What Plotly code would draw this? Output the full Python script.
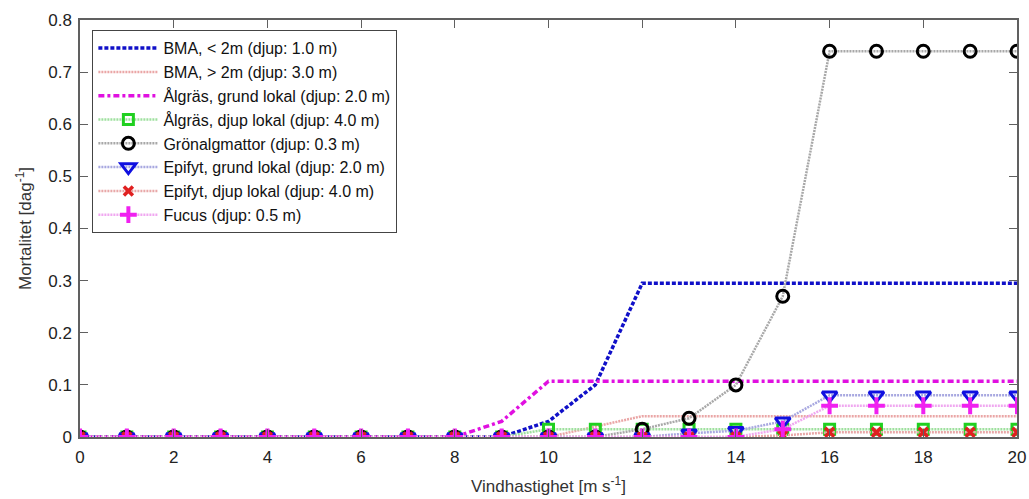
import plotly.graph_objects as go

wind = list(range(0, 21))

bma_shallow = [0]*10 + [0.03, 0.10, 0.295, 0.295, 0.295, 0.295, 0.295, 0.295, 0.295, 0.295, 0.295]
bma_deep = [0]*11 + [0.02, 0.04, 0.04, 0.04, 0.04, 0.04, 0.04, 0.04, 0.04, 0.04]
algras_grund = [0]*9 + [0.03, 0.107, 0.107, 0.107, 0.107, 0.107, 0.107, 0.107, 0.107, 0.107, 0.107, 0.107]
algras_djup = [0]*10 + [0.015]*11
gronalg = [0]*12 + [0.015, 0.036, 0.10, 0.27, 0.74, 0.74, 0.74, 0.74, 0.74]
epifyt_grund = [0]*13 + [0.007, 0.012, 0.03, 0.08, 0.08, 0.08, 0.08, 0.08]
epifyt_djup = [0]*15 + [0.003, 0.009, 0.009, 0.009, 0.009, 0.009]
fucus = [0]*15 + [0.015, 0.06, 0.06, 0.06, 0.06, 0.06]

names = [
    "BMA, < 2m (djup: 1.0 m)",
    "BMA, > 2m (djup: 3.0 m)",
    "Ålgräs, grund lokal (djup: 2.0 m)",
    "Ålgräs, djup lokal (djup: 4.0 m)",
    "Grönalgmattor (djup: 0.3 m)",
    "Epifyt, grund lokal (djup: 2.0 m)",
    "Epifyt, djup lokal (djup: 4.0 m)",
    "Fucus (djup: 0.5 m)",
]

fig = go.Figure()

fig.add_trace(go.Scatter(x=wind, y=bma_shallow, name=names[0], mode="lines",
                         line=dict(color="#1010c8", width=3.5, dash="4px,2px")))
fig.add_trace(go.Scatter(x=wind, y=bma_deep, name=names[1], mode="lines",
                         line=dict(color="#eaa6a6", width=2.5, dash="2px,1px")))
fig.add_trace(go.Scatter(x=wind, y=algras_grund, name=names[2], mode="lines",
                         line=dict(color="#e010e0", width=3.5, dash="6px,3px,3px,3px")))
fig.add_trace(go.Scatter(x=wind, y=algras_djup, name=names[3], mode="lines+markers",
                         line=dict(color="#9ee09e", width=2.5, dash="2px,1px"),
                         marker=dict(symbol="square-open", size=10, color="#20d020", line=dict(width=3, color="#20d020"))))
fig.add_trace(go.Scatter(x=wind, y=gronalg, name=names[4], mode="lines+markers",
                         line=dict(color="#a8a8a8", width=2.5, dash="2px,1px"),
                         marker=dict(symbol="circle-open", size=12, color="black", line=dict(width=3, color="black"))))
fig.add_trace(go.Scatter(x=wind, y=epifyt_grund, name=names[5], mode="lines+markers",
                         line=dict(color="#a8a8e0", width=2.5, dash="2px,1px"),
                         marker=dict(symbol="triangle-down-open", size=13, color="#1010e0", line=dict(width=3, color="#1010e0"))))
fig.add_trace(go.Scatter(x=wind, y=epifyt_djup, name=names[6], mode="lines+markers",
                         line=dict(color="#e8a8a8", width=2.5, dash="2px,1px"),
                         marker=dict(symbol="x-thin", size=9, color="#e02020", line=dict(width=3.5, color="#e02020"))))
fig.add_trace(go.Scatter(x=wind, y=fucus, name=names[7], mode="lines+markers",
                         line=dict(color="#f0a8f0", width=2.5, dash="2px,1px"),
                         marker=dict(symbol="cross-thin", size=12, color="#f020f0", line=dict(width=4, color="#f020f0"))))

axis_common = dict(showline=True, linecolor="#606060", linewidth=1.5, mirror="ticks",
                   ticks="inside", ticklen=8, tickcolor="#606060", showgrid=False, zeroline=False,
                   automargin=False,
                   tickfont=dict(family="Liberation Sans, Arial", size=17, color="#222"))

fig.update_xaxes(range=[0, 20], tickmode="array", tickvals=list(range(0, 21, 2)),
                 ticklabelstandoff=4,
                 title=dict(text="Vindhastighet [m s<sup>-1</sup>]", font=dict(family="Liberation Sans, Arial", size=17, color="#333"), standoff=14),
                 **axis_common)
fig.update_yaxes(range=[0, 0.8], tickmode="array", tickvals=[0, 0.1, 0.2, 0.3, 0.4, 0.5, 0.6, 0.7, 0.8],
                 ticktext=["0", "0.1", "0.2", "0.3", "0.4", "0.5", "0.6", "0.7", "0.8"],
                 ticklabelstandoff=3,
                 title=dict(text="Mortalitet [dag<sup>-1</sup>]", font=dict(family="Liberation Sans, Arial", size=17, color="#333"), standoff=12),
                 **axis_common)

fig.update_layout(
    width=1029, height=499,
    margin=dict(l=80, r=12, t=20, b=62),
    paper_bgcolor="white", plot_bgcolor="white",
    showlegend=True,
    legend=dict(x=0.013, y=0.976, xanchor="left", yanchor="top",
                bgcolor="white", bordercolor="#444", borderwidth=1.2,
                font=dict(family="Liberation Sans, Arial", size=16, color="#111"),
                itemwidth=60, tracegroupgap=0),
)

fig.write_html("out.html")
